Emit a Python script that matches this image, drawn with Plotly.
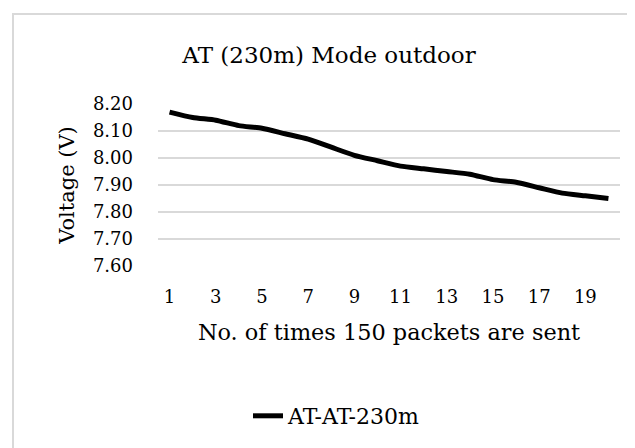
import plotly.graph_objects as go

packets_sent = list(range(1, 21))
voltage = [8.17, 8.15, 8.14, 8.12, 8.11, 8.09, 8.07, 8.04, 8.01, 7.99,
           7.97, 7.96, 7.95, 7.94, 7.92, 7.91, 7.89, 7.87, 7.86, 7.85]
series_name = "AT-AT-230m"
x_ticks = [1, 3, 5, 7, 9, 11, 13, 15, 17, 19]
y_ticks = [7.60, 7.70, 7.80, 7.90, 8.00, 8.10, 8.20]

FONT = "DejaVu Serif"
W, H = 635, 448
L, R, T, B = 150, 23, 96, 190

fig = go.Figure()
fig.add_trace(go.Scatter(
    x=packets_sent, y=voltage, mode="lines", name=series_name,
    line=dict(color="black", width=5, shape="spline", smoothing=0.6),
    showlegend=True,
))

pw = W - L - R
ph = H - T - B
def px_to_paper_x(px):
    return (px - L) / pw
def px_to_paper_y(py):
    return (H - B - py) / ph

# light grey chart-area frame (left, top, bottom edges visible)
fig.add_shape(type="rect", xref="paper", yref="paper",
              x0=px_to_paper_x(5), x1=px_to_paper_x(640),
              y0=px_to_paper_y(447), y1=px_to_paper_y(6),
              line=dict(color="#d9d9d9", width=2), fillcolor="rgba(0,0,0,0)", layer="below")

fig.update_layout(
    width=W, height=H,
    margin=dict(l=L, r=R, t=T, b=B),
    paper_bgcolor="white", plot_bgcolor="white",
    font=dict(family=FONT, color="black", size=18),
    title=dict(text="AT (230m) Mode outdoor", x=321 / W, xref="container", xanchor="center",
               y=1 - 47 / H, yref="container", yanchor="middle",
               font=dict(family=FONT, size=23, color="black")),
    xaxis=dict(range=[0.5, 20.5], tickmode="array", tickvals=x_ticks,
               ticktext=[str(v) for v in x_ticks], showgrid=False, zeroline=False,
               showline=False, ticks="", ticklabelstandoff=18,
               title=dict(text="No. of times 150 packets are sent", standoff=18,
                          font=dict(size=22.4)),
               tickfont=dict(size=18)),
    yaxis=dict(range=[7.60, 8.20], tickmode="array", tickvals=y_ticks,
               ticktext=[f"{v:.2f}" for v in y_ticks], showgrid=True,
               gridcolor="#d9d9d9", gridwidth=2, zeroline=False, showline=False,
               ticks="", ticklabelstandoff=24,
               title=dict(text="Voltage (V)", standoff=12, font=dict(size=21)),
               tickfont=dict(size=18)),
    legend=dict(orientation="h", x=px_to_paper_x(240), xanchor="left",
                y=px_to_paper_y(408), yanchor="middle",
                font=dict(size=22), bgcolor="rgba(0,0,0,0)"),
)

fig.write_html("out.html")
